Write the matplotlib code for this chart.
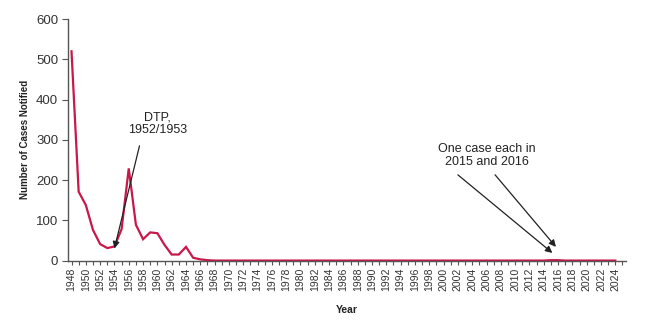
import matplotlib
matplotlib.use("Agg")
import matplotlib.pyplot as plt
import numpy as np

plt.rcParams['font.family'] = ['Liberation Sans', 'DejaVu Sans']

years = list(range(1948, 2025))
early_cases = [520, 171, 138, 76, 41, 31, 35, 78, 229, 89, 53, 70, 68, 39, 15, 15, 34, 7, 3, 1]
cases = early_cases + [0] * (len(years) - len(early_cases))
cases[years.index(2015)] = 1
cases[years.index(2016)] = 1

tick_years = list(range(1948, 2025, 2))

fig = plt.figure(figsize=(6.66, 3.29), dpi=100)
ax = fig.add_axes([0.102, 0.208, 0.838, 0.734])

ax.plot(years, cases, color='#C8174B', lw=1.6, solid_joinstyle='miter')

ax.set_xlim(1947.5, 2025.5)
ax.set_ylim(0, 600)
ax.set_yticks([0, 100, 200, 300, 400, 500, 600])
ax.set_xticks(tick_years)
ax.set_xticklabels([str(y) for y in tick_years], rotation=90, fontsize=7.5, color='#333333')
ax.set_xticks(np.arange(1948, 2026), minor=True)
ax.tick_params(axis='x', which='both', length=3, width=0.8, color='#555555', pad=2)
ax.tick_params(axis='y', length=4, width=0.8, color='#555555', labelsize=9.5, labelcolor='#333333', pad=3)

for s in ['top', 'right']:
    ax.spines[s].set_visible(False)
for s in ['left', 'bottom']:
    ax.spines[s].set_color('#555555')
    ax.spines[s].set_linewidth(1.0)

ax.set_ylabel('Number of Cases Notified', fontsize=7, fontweight='bold', color='#222222', labelpad=4)
ax.set_xlabel('Year', fontsize=7.5, fontweight='bold', color='#222222', labelpad=10)

arrow = dict(arrowstyle='-|>', color='#222222', lw=0.9, mutation_scale=10, shrinkA=0, shrinkB=0)
ax.annotate('', xy=(1954.0, 30), xytext=(1957.5, 285), arrowprops=arrow)
ax.text(1960.0, 340, 'DTP,\n1952/1953', ha='center', va='center', fontsize=9, color='#222222', linespacing=1.1)

ax.annotate('', xy=(2015.2, 19), xytext=(2002.0, 213), arrowprops=arrow)
ax.annotate('', xy=(2015.7, 34), xytext=(2007.2, 213), arrowprops=arrow)
ax.text(2006.1, 262, 'One case each in\n2015 and 2016', ha='center', va='center', fontsize=9, color='#222222', linespacing=1.1)

fig.savefig('out.png', dpi=100)
